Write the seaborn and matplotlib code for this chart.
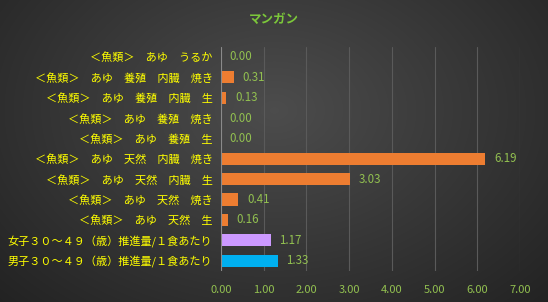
import numpy as np
import pandas as pd
import matplotlib
matplotlib.use("Agg")
import matplotlib.pyplot as plt
import seaborn as sns

categories = [
    "＜魚類＞　あゆ　うるか",
    "＜魚類＞　あゆ　養殖　内臓　焼き",
    "＜魚類＞　あゆ　養殖　内臓　生",
    "＜魚類＞　あゆ　養殖　焼き",
    "＜魚類＞　あゆ　養殖　生",
    "＜魚類＞　あゆ　天然　内臓　焼き",
    "＜魚類＞　あゆ　天然　内臓　生",
    "＜魚類＞　あゆ　天然　焼き",
    "＜魚類＞　あゆ　天然　生",
    "女子３０～４９（歳）推進量/１食あたり",
    "男子３０～４９（歳）推進量/１食あたり",
]
values = [0.00, 0.31, 0.13, 0.00, 0.00, 6.19, 3.03, 0.41, 0.16, 1.17, 1.33]
bar_colors = ["#ED7D31"] * 9 + ["#CC99FF", "#00B0F0"]
xticks = [0, 1, 2, 3, 4, 5, 6, 7]
title = "マンガン"

sns.set_style("dark")
plt.rcParams['font.family'] = ['Noto Sans CJK JP', 'DejaVu Sans']

fig = plt.figure(figsize=(5.48, 3.02), dpi=100)

# background radial gradient
bg = fig.add_axes([0, 0, 1, 1], zorder=-10)
yy, xx = np.mgrid[0:302, 0:548]
cx, cy = 274, 110
d = np.sqrt(((xx - cx) / 420.0) ** 2 + ((yy - cy) / 300.0) ** 2)
shade = np.clip(0.30 - 0.18 * d, 0.11, 0.30)
img = np.dstack([shade, shade, shade])
bg.imshow(img, aspect="auto", extent=[0, 1, 0, 1])
bg.axis("off")

ax = fig.add_axes([0.403, 0.103, 0.546, 0.742])
ax.set_facecolor((0, 0, 0, 0))

df = pd.DataFrame({"cat": categories, "val": values})
sns.barplot(data=df, x="val", y="cat", hue="cat", palette=bar_colors,
            legend=False, ax=ax, width=0.6, orient="h", saturation=1,
            linewidth=0, edgecolor="none")

ax.set_xlim(0, 7)
ax.set_xticks(xticks)
ax.set_xticklabels([f"{t:.2f}" for t in xticks], color="#92C050", fontsize=8)
ax.tick_params(axis="y", colors="#FFFF00", labelsize=8, length=0, pad=6)
ax.tick_params(axis="x", length=0, pad=10)
for lab in ax.get_yticklabels():
    lab.set_color("#FFFF00")
ax.set_xlabel("")
ax.set_ylabel("")
ax.grid(axis="x", color="#5a5a5a", linewidth=0.8)
ax.grid(axis="y", visible=False)
ax.set_axisbelow(True)
for s in ax.spines.values():
    s.set_visible(False)
ax.axvline(0, color="#8a8a8a", linewidth=0.8, zorder=3)

for i, v in enumerate(values):
    ax.text(v + 0.2, i, f"{v:.2f}", va="center", ha="left",
            color="#92C050", fontsize=8.3)

fig.text(0.5, 0.937, title, ha="center", va="center", color="#7CC73A",
         fontsize=9, fontweight="bold")

fig.savefig("out.png", dpi=100)
